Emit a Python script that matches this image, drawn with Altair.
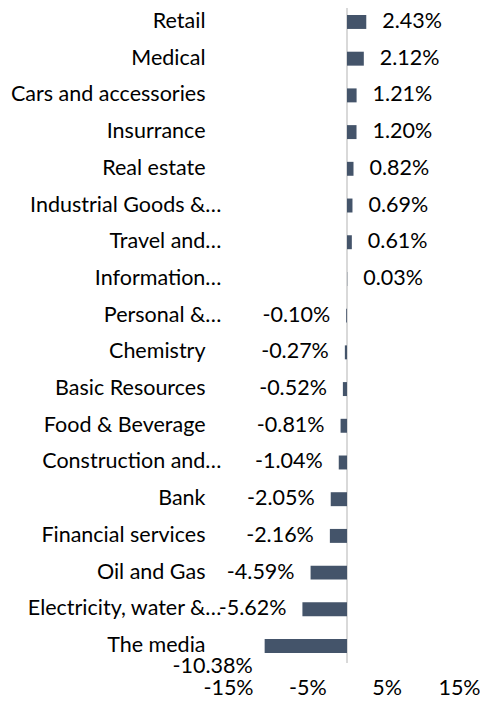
import altair as alt
import pandas as pd

categories = ["Retail", "Medical", "Cars and accessories", "Insurrance", "Real estate",
              "Industrial Goods &…", "Travel and…", "Information…", "Personal &…",
              "Chemistry", "Basic Resources", "Food & Beverage", "Construction and…",
              "Bank", "Financial services", "Oil and Gas", "Electricity, water &…", "The media"]
values = [2.43, 2.12, 1.21, 1.20, 0.82, 0.69, 0.61, 0.03, -0.10, -0.27, -0.52, -0.81,
          -1.04, -2.05, -2.16, -4.59, -5.62, -10.38]
x_ticks = [-15, -5, 5, 15]

df = pd.DataFrame({"cat": categories, "val": values})
df["label"] = [f"{v:.2f}%" for v in values]

FONT = "Lato"
FS = 21.5
BAR = "#44546A"

y_enc = alt.Y("cat:N", sort=categories,
              scale=alt.Scale(paddingInner=0.62, paddingOuter=0.136),
              axis=alt.Axis(title=None, ticks=False, domain=False,
                            labelPadding={"condition": {"test": "indexof(datum.label, '…') >= 0", "value": 7}, "value": 23},
                            labelFont=FONT, labelFontSize=FS, labelColor="#000000",
                            labelLimit=300))
x_scale = alt.Scale(domain=[-15, 15], nice=False)
x_enc = alt.X("val:Q", scale=x_scale,
              axis=alt.Axis(title=None, values=x_ticks, ticks=False, domain=False, grid=False,
                            labelExpr="datum.value + '%'", labelPadding=19,
                            labelOffset={"condition": {"test": "datum.value == 15", "value": -7}, "value": 0},
                            labelFont=FONT, labelFontSize=FS, labelColor="#000000",
                            labelFlush=False))

base = alt.Chart(df)

bars = base.mark_bar(color=BAR).encode(x=x_enc, x2=alt.datum(0), y=y_enc)

zero = alt.Chart(pd.DataFrame({"z": [0]})).mark_rule(color="#D9D9D9", strokeWidth=2).encode(
    x=alt.X("z:Q", scale=x_scale), y=alt.value(-10), y2=alt.value(653))

pos = base.transform_filter("datum.val >= 0").mark_text(
    align="left", baseline="middle", dx=16, font=FONT, fontSize=FS, color="#000000"
).encode(x=alt.X("val:Q", scale=x_scale), y=alt.Y("cat:N", sort=categories), text="label:N")

neg = base.transform_filter("datum.val < 0 && datum.val > -10").mark_text(
    align="right", baseline="middle", dx=-16, font=FONT, fontSize=FS, color="#000000"
).encode(x=alt.X("val:Q", scale=x_scale), y=alt.Y("cat:N", sort=categories), text="label:N")

neg_big = base.transform_filter("datum.val <= -10").mark_text(
    align="right", baseline="middle", dx=-12, dy=21, font=FONT, fontSize=FS, color="#000000"
).encode(x=alt.X("val:Q", scale=x_scale), y=alt.Y("cat:N", sort=categories), text="label:N")

chart = alt.layer(zero, bars, pos, neg, neg_big).properties(
    width=238, height=648,
    autosize=alt.AutoSizeParams(type="none"),
    padding={"left": 220, "top": 2, "right": 14, "bottom": 43},
).configure_view(stroke=None)

chart.save("out.html", embed_options={"renderer": "svg", "actions": False})
